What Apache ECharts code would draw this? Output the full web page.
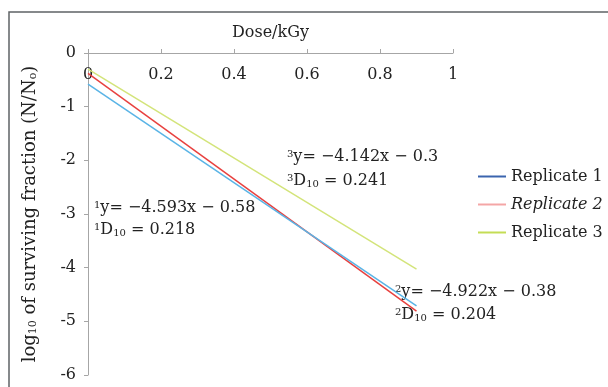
<!DOCTYPE html>
<html>
<head>
<meta charset="utf-8">
<script src="https://cdn.jsdelivr.net/npm/echarts@6/dist/echarts.min.js"></script>
<style>html,body{margin:0;padding:0;background:#fff}#c{width:608px;height:387px}</style>
</head>
<body>
<div id="c"></div>
<script>
const doses = [0, 0.9];
const rep1 = [-0.58, -4.714];
const rep2 = [-0.38, -4.81];
const rep3 = [-0.3, -4.028];
const seriesNames = ['Replicate 1', 'Replicate 2', 'Replicate 3'];
const xTicks = [0, 0.2, 0.4, 0.6, 0.8, 1];
const yTicks = [0, -1, -2, -3, -4, -5, -6];

const FONT = '"DejaVu Serif","Liberation Serif",serif';
const FS = 16;
const lineColors = ['#5AB4E6', '#E8413F', '#D3E47A'];
const legendColors = ['#3B64AE', '#F4A6A6', '#C4DD55'];

const chart = echarts.init(document.getElementById('c'));
const mk = arr => doses.map((d, i) => [d, arr[i]]);
const sup = {fontSize: 10, fontFamily: FONT, color: '#222', verticalAlign: 'top', padding: [0, 0, 6, 0]};
const sub = {fontSize: 10, fontFamily: FONT, color: '#222', verticalAlign: 'bottom', padding: [6, 0, 0, 0]};
const base = {fontSize: FS, fontFamily: FONT, color: '#222'};
const yBase = {fontSize: 18, fontFamily: FONT, color: '#222'};
const ySub = {fontSize: 11, fontFamily: FONT, color: '#222', verticalAlign: 'bottom', padding: [7, 0, 0, 0]};
function ann(x, y, txt) {
  return {type: 'text', left: x, top: y, silent: true,
    style: {text: txt, font: FS + 'px ' + FONT, fill: '#222', rich: {s: sup, b: sub, n: base}}};
}

chart.setOption({
  animation: false,
  backgroundColor: '#fff',
  grid: {left: 88, right: 155, top: 53, bottom: 12, containLabel: false},
  xAxis: {
    type: 'value', position: 'top', min: 0, max: 1, interval: 0.2,
    name: 'Dose/kGy', nameLocation: 'middle', nameGap: 12,
    nameTextStyle: {fontFamily: FONT, fontSize: FS, color: '#222'},
    axisLine: {show: true, lineStyle: {color: '#A6A6A6', width: 1}},
    axisTick: {show: true, inside: false, length: 4, lineStyle: {color: '#A6A6A6'}},
    axisLabel: {inside: true, margin: 14, fontFamily: FONT, fontSize: FS, color: '#222',
      formatter: v => xTicks.includes(+v.toFixed(1)) ? String(+v.toFixed(1)) : ''},
    splitLine: {show: false}
  },
  yAxis: {
    type: 'value', min: -6, max: 0, interval: 1,
    name: '{n|log}{b|10}{n| of surviving fraction (N/N}{b|o}{n|)}',
    nameLocation: 'middle', nameGap: 49, nameRotate: 90,
    nameTextStyle: {fontFamily: FONT, fontSize: 18, color: '#222', rich: {n: yBase, b: ySub}},
    axisLine: {show: true, lineStyle: {color: '#A6A6A6', width: 1}},
    axisTick: {show: true, inside: false, length: 4, lineStyle: {color: '#A6A6A6'}},
    axisLabel: {margin: 12, fontFamily: FONT, fontSize: FS, color: '#222',
      formatter: v => yTicks.includes(v) ? String(v) : ''},
    splitLine: {show: false}
  },
  legend: {
    orient: 'vertical', left: 473, top: 162,
    icon: 'rect', itemWidth: 28, itemHeight: 2, itemGap: 9,
    data: seriesNames.map((n, i) => ({name: n, itemStyle: {color: legendColors[i]}})),
    formatter: n => n === 'Replicate 2' ? '{i|' + n + '}' : n,
    textStyle: {fontFamily: FONT, fontSize: FS, color: '#222', lineHeight: 19,
      rich: {i: {fontFamily: FONT, fontSize: FS, fontStyle: 'italic', color: '#222'}}}
  },
  series: [rep1, rep2, rep3].map((arr, i) => ({
    name: seriesNames[i], type: 'line', data: mk(arr), showSymbol: false, symbol: 'none',
    lineStyle: {color: lineColors[i], width: 1.5}, itemStyle: {color: lineColors[i]}, z: 3 - i
  })),
  graphic: [
    {type: 'rect', shape: {x: 9, y: 12, width: 800, height: 600}, silent: true,
      style: {fill: 'none', stroke: '#5F6366', lineWidth: 1.5}},
    ann(94, 200, '{s|1}{n|y= −4.593x − 0.58}'),
    ann(94, 222, '{s|1}{n|D}{b|10}{n| = 0.218}'),
    ann(287, 149, '{s|3}{n|y= −4.142x − 0.3}'),
    ann(287, 173, '{s|3}{n|D}{b|10}{n| = 0.241}'),
    ann(395, 284, '{s|2}{n|y= −4.922x − 0.38}'),
    ann(395, 307, '{s|2}{n|D}{b|10}{n| = 0.204}')
  ]
});
</script>
</body>
</html>
